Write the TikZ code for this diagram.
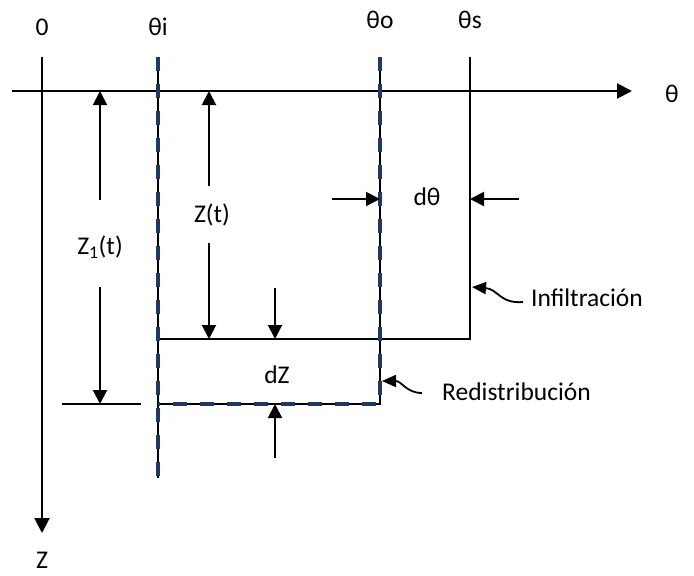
\documentclass[tikz,border=0pt]{standalone}
\usepackage{fontspec}
\setmainfont{Carlito}
\usetikzlibrary{arrows.meta}
\definecolor{navy}{HTML}{1F3864}

\begin{document}
\begin{tikzpicture}[
  x=1pt, y=-1pt,
  font=\fontsize{25.5}{30}\selectfont,
  axis/.style={line width=2pt, -{Triangle[length=15pt,width=15pt]}},
  level/.style={line width=1.3pt},
  front/.style={draw=navy, line width=3.2pt, dash pattern=on 14pt off 13pt},
  dim/.style={line width=2pt, -{Triangle[length=14pt,width=14pt]}},
  tag/.style={line width=1.8pt, -{Triangle[length=14pt,width=12pt]}},
  lbl/.style={inner sep=0pt},
]
\useasboundingbox (0,0) rectangle (694,576);

% Axes
\coordinate (thl) at (12,91);
\coordinate (thr) at (632,91);
\coordinate (ztop) at (42,57);
\coordinate (zend) at (42,533);
\draw[axis] (thl) -- (thr);
\draw[axis] (ztop) -- (zend);
\node[lbl] (theta) at (672,94) {θ};
\node[lbl] (zlbl) at (42,560) {Z};

% Moisture levels
\coordinate (it) at (158,57);
\coordinate (ib) at (158,478);
\coordinate (ic) at (158,339);
\coordinate (il) at (158,404);
\coordinate (ot) at (380,57);
\coordinate (oc) at (380,404);
\coordinate (st) at (470,57);
\coordinate (sc) at (470,339);
\node[lbl] (zero) at (42,27) {0};
\node[lbl] (thi) at (158,27) {θi};
\node[lbl] (tho) at (380,20) {θo};
\node[lbl] (ths) at (470,20) {θs};

% Infiltration front
\draw[level] (st) -- (sc) -- (ic);

% Redistribution front
\draw[level] (it) -- (ib);
\draw[level] (ot) -- (oc) -- (il);
\draw[front] (it) -- (ib);
\draw[front] (ot) -- (oc) -- (il);

% Z1 depth
\coordinate (t1l) at (62,404);
\coordinate (t1r) at (141,404);
\draw[level] (t1l) -- (t1r);
\node[lbl] (z1) at (100,247) {Z$_{\mathrm{1}}$(t)};
\coordinate (z1u) at (100,200);
\coordinate (z1a) at (100,91);
\coordinate (z1d) at (100,287);
\coordinate (z1b) at (100,404);
\draw[dim] (z1u) -- (z1a);
\draw[dim] (z1d) -- (z1b);

% Z depth
\node[lbl] (z) at (212,215) {Z(t)};
\coordinate (zu) at (209,186);
\coordinate (za) at (209,91);
\coordinate (zd) at (209,243);
\coordinate (zb) at (209,339);
\draw[dim] (zu) -- (za);
\draw[dim] (zd) -- (zb);

% dZ
\node[lbl] (dz) at (277,375) {dZ};
\coordinate (dzu) at (275,288);
\coordinate (dza) at (275,339);
\coordinate (dzd) at (275,458);
\coordinate (dzb) at (275,404);
\draw[dim] (dzu) -- (dza);
\draw[dim] (dzd) -- (dzb);

% dtheta
\node[lbl] (dth) at (427,197) {dθ};
\coordinate (dtl) at (332,199);
\coordinate (dta) at (380,199);
\coordinate (dtr) at (519,199);
\coordinate (dtb) at (470,199);
\draw[dim] (dtl) -- (dta);
\draw[dim] (dtr) -- (dtb);

% Fronts
\node[lbl, anchor=west] (inf) at (531,298) {Infiltración};
\coordinate (inft) at (523,302);
\coordinate (infp) at (472,287);
\draw[tag] (inft) .. controls (500,304) and (498,289) .. (infp);

\node[lbl, anchor=west] (red) at (442,392) {Redistribución};
\coordinate (redt) at (422,393);
\coordinate (redp) at (382,381);
\draw[tag] (redt) .. controls (406,393) and (402,381) .. (redp);

\end{tikzpicture}
\end{document}
